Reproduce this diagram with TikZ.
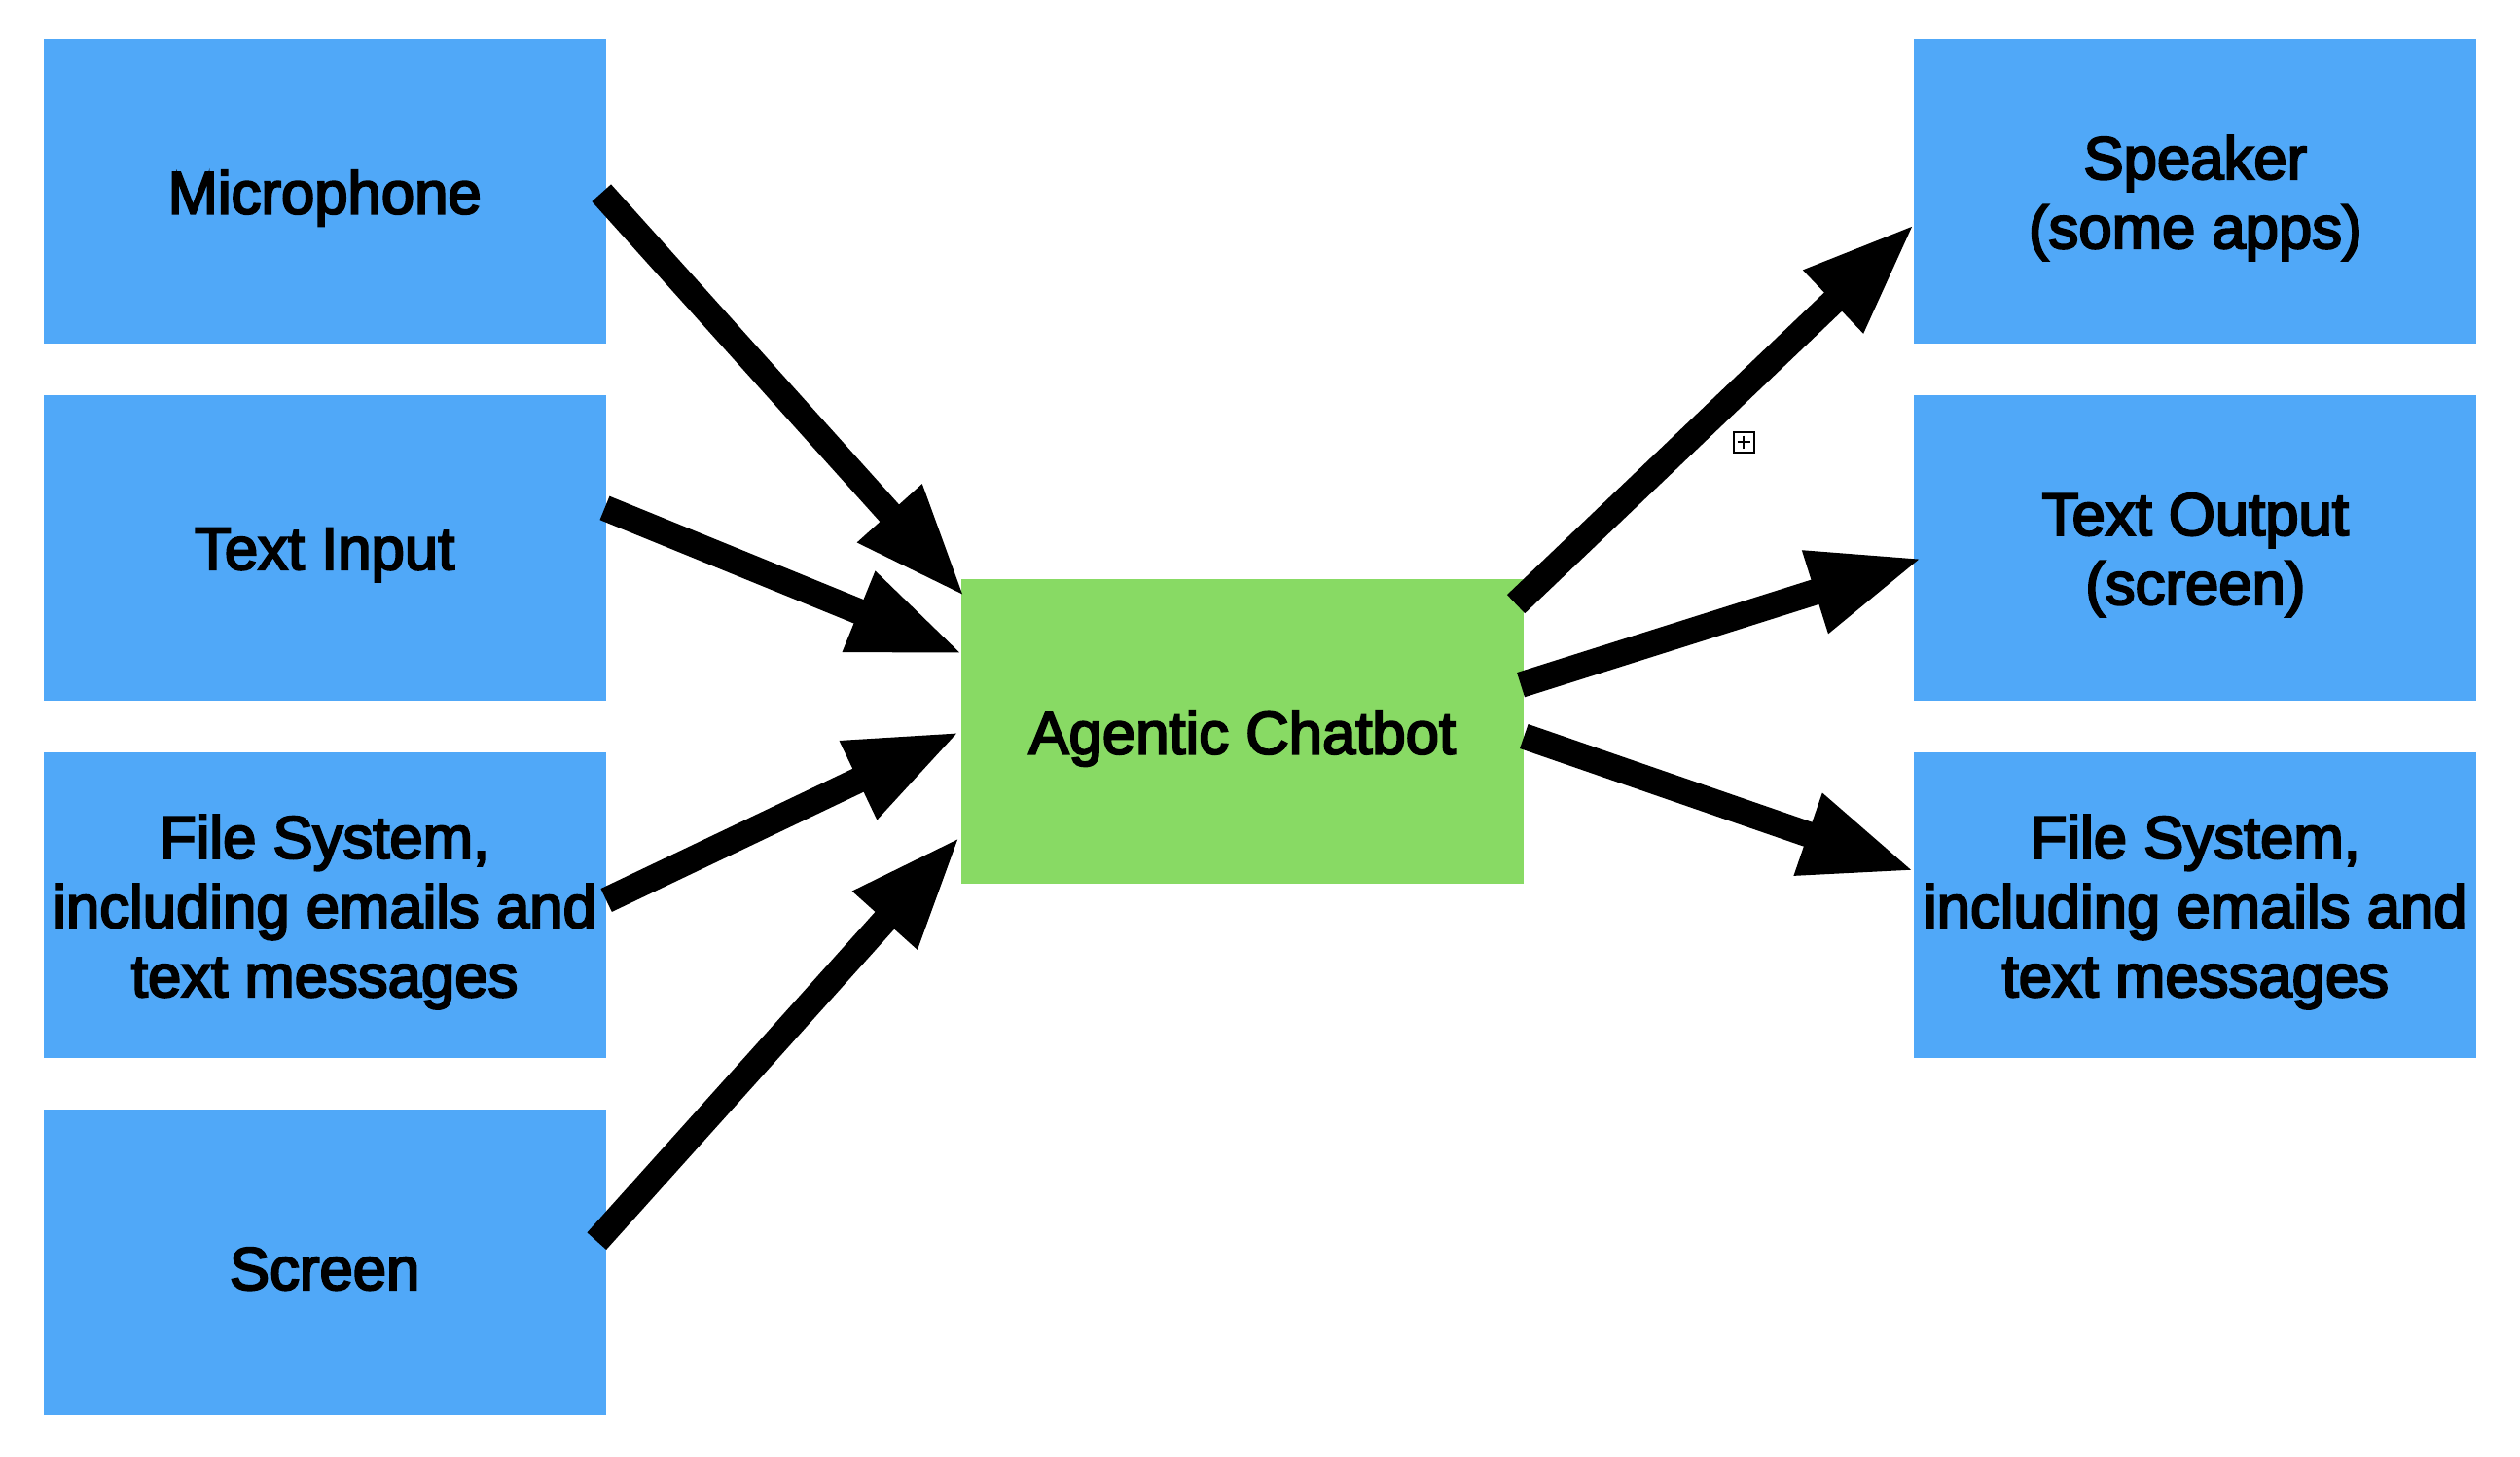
\documentclass[tikz,border=0pt]{standalone}
\usepackage{fontspec}
\setmainfont{Liberation Sans}[BoldFont=Liberation Sans, BoldFeatures={FakeBold=3.5}]
\usetikzlibrary{calc,arrows.meta}
\definecolor{boxblue}{RGB}{80,168,248}
\definecolor{boxgreen}{RGB}{136,218,100}
\tikzset{
  iobox/.style={fill=boxblue, minimum width=262.5pt, minimum height=142.5pt, inner sep=0,
    label={[boxtext]center:{#1}}},
  agentbox/.style={iobox={#1}, fill=boxgreen},
  boxtext/.style={align=center, yshift=-3.2pt, font=\fontsize{28}{32.3}\selectfont\bfseries},
  flow/.style={line width=12pt, -{Triangle[length=53pt,width=37pt]}}
}
\begin{document}
\begin{tikzpicture}[x=0.75pt,y=0.75pt,yscale=-1,xscale=1]
\useasboundingbox (0,0) rectangle (1568,906);

% Inputs
\node[iobox={Microphone}] (mic) at (202,119) {};
\node[iobox={Text Input}] (textin) at (202,341) {};
\node[iobox={File System,\\including emails and\\text messages}] (filesin) at (202,563) {};
\node[iobox={Screen}] (screen) at (202,785) {};

% Agent
\node[agentbox={Agentic Chatbot}] (agent) at (773,455) {};

% Outputs
\node[iobox={Speaker\\(some apps)}] (speaker) at (1366,119) {};
\node[iobox={Text Output\\(screen)}] (textout) at (1366,341) {};
\node[iobox={File System,\\including emails and\\text messages}] (filesout) at (1366,563) {};

% small marker
\node[draw, line width=0.9pt, minimum size=9.5pt, inner sep=0] (plusicon) at (1085,275) {};
\draw[line width=0.9pt] ($(plusicon.center)+(-4,0)$) -- ($(plusicon.center)+(4,0)$);
\draw[line width=0.9pt] ($(plusicon.center)+(0,-4)$) -- ($(plusicon.center)+(0,4)$);

% Arrows in
\draw[flow] ($(mic.east)+(-3,1)$) -- ($(agent.north west)+(3,12)$);
\draw[flow] ($(textin.east)+(-1,-25)$) -- ($(agent.west)+(2,-48)$);
\draw[flow] ($(filesin.east)+(0,-3)$) -- (agent.west);
\draw[flow] ($(screen.east)+(-6,-13)$) -- ($(agent.west)+(0,65)$);

% Arrows out
\draw[flow] ($(agent.north east)+(-5,16)$) -- ($(speaker.west)+(1,20)$);
\draw[flow] ($(agent.east)+(-2,-29)$) -- ($(textout.west)+(6,6)$);
\draw[flow] ($(agent.east)+(0,3)$) -- ($(filesout.west)+(1,-21)$);
\end{tikzpicture}
\end{document}
